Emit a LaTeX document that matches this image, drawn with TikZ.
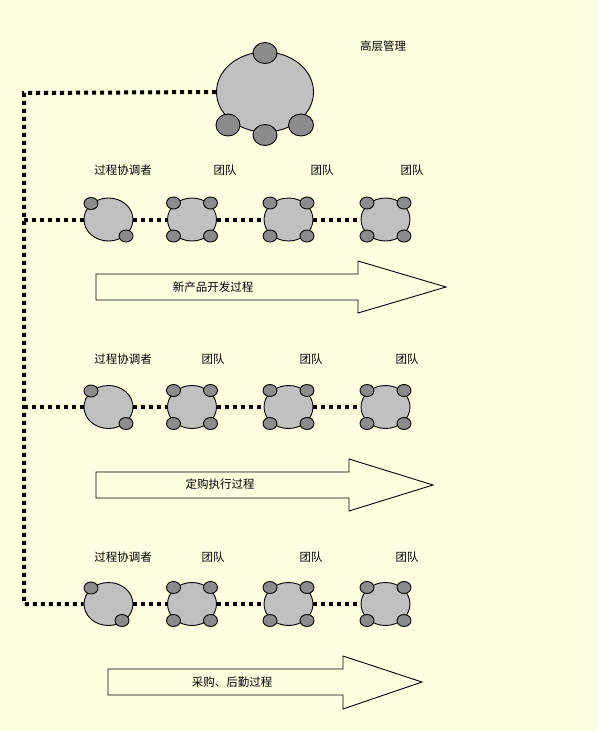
\documentclass[tikz,border=0pt]{standalone}
\usepackage{fontspec}
\newfontfamily\cjk{Noto Sans CJK SC}
\usetikzlibrary{shapes.geometric}
\definecolor{paper}{HTML}{FFFFE1}
\definecolor{bodygray}{HTML}{C0C0C0}
\definecolor{knobgray}{HTML}{8C8C8C}

\begin{document}
\begin{tikzpicture}[x=1pt, y=-1pt,
    body/.style={ellipse, draw, line width=0.9pt, fill=bodygray, inner sep=0pt, minimum width=49pt, minimum height=43pt},
    knob/.style={ellipse, draw, line width=0.9pt, fill=knobgray, inner sep=0pt, minimum width=14pt, minimum height=12pt},
    link/.style={line width=4pt, dash pattern=on 4pt off 4pt},
    lbl/.style={font=\cjk\fontsize{11.5}{13}\selectfont, inner sep=0pt},
    flow/.style={draw, line width=0.9pt}]
  \fill[paper] (0,0) rectangle (598,731);
  \useasboundingbox (0,0) rectangle (598,731);

  % top management
  \node[body, minimum width=97pt, minimum height=80pt] (top) at (265,92) {};
  \node[knob, minimum width=24pt, minimum height=21pt] (topk1) at (265,53) {};
  \node[knob, minimum width=24pt, minimum height=22pt] (topk2) at (228,125) {};
  \node[knob, minimum width=24pt, minimum height=21pt] (topk3) at (265,135) {};
  \node[knob, minimum width=25pt, minimum height=22pt] (topk4) at (301,125) {};
  \node[lbl] (toplbl) at (383,46) {高层管理};

  % process rows: coordinator + three teams
  \foreach \r/\y/\bx in {1/219.5/17.5, 2/407/17.5, 3/604/13.5} {
    \node[body] (c\r) at (108.5,\y) {};
    \node[knob] (c\r a) at (91,\y-16) {};
    \node[knob] (c\r b) at (108.5+\bx,\y+16.5) {};
    \foreach \t/\x in {1/192, 2/288.5, 3/385.5} {
      \node[body] (t\r\t) at (\x,\y) {};
      \node[knob] (t\r\t a) at (\x-18.5,\y-16.5) {};
      \node[knob] (t\r\t b) at (\x+18.5,\y-16.5) {};
      \node[knob] (t\r\t c) at (\x-18.5,\y+16.5) {};
      \node[knob] (t\r\t d) at (\x+18.5,\y+16.5) {};
    }
    \coordinate (j\r) at (24,\y);
    \draw[link] (c\r) -- (t\r1);
    \draw[link] (t\r1) -- (t\r2);
    \draw[link] (t\r2) -- (t\r3);
  }

  % labels
  \node[lbl] (cl1) at (123,170) {过程协调者};
  \node[lbl] (tl11) at (225,170) {团队};
  \node[lbl] (tl12) at (322,170) {团队};
  \node[lbl] (tl13) at (412,170) {团队};
  \foreach \r/\y in {2/359.5, 3/557} {
    \node[lbl] (cl\r) at (123,\y) {过程协调者};
    \node[lbl] (tl\r1) at (213,\y) {团队};
    \node[lbl] (tl\r2) at (311,\y) {团队};
    \node[lbl] (tl\r3) at (407,\y) {团队};
  }

  % trunk
  \coordinate (bend) at (24,93);
  \draw[link] (top.west) -- (bend) -- (j3) -- (c3);
  \draw[link] (j1) -- (c1);
  \draw[link] (j2) -- (c2);

  % process arrows
  \draw[flow] (96,274) -- (358,274) -- (358,261) -- (446,287) -- (358,313) -- (358,300) -- (96,300) -- cycle;
  \node[lbl] (p1) at (213,287) {新产品开发过程};
  \draw[flow] (96,472) -- (349,472) -- (349,459) -- (433,485) -- (349,511) -- (349,498) -- (96,498) -- cycle;
  \node[lbl] (p2) at (220,484) {定购执行过程};
  \draw[flow] (108,669) -- (343,669) -- (343,656) -- (422,682) -- (343,709) -- (343,695) -- (108,695) -- cycle;
  \node[lbl] (p3) at (232,682) {采购、后勤过程};
\end{tikzpicture}
\end{document}
